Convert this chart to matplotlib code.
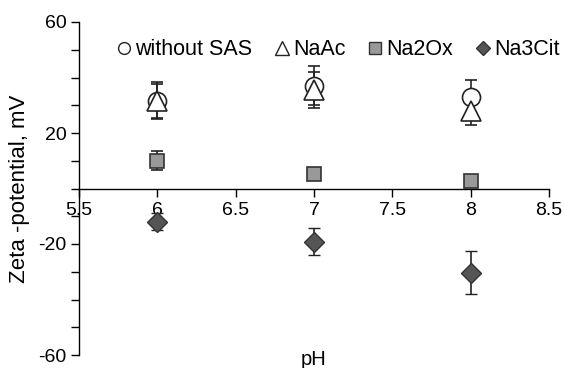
import matplotlib
matplotlib.use("Agg")
import matplotlib.pyplot as plt
from matplotlib.lines import Line2D

plt.rcParams['font.family'] = ['Liberation Sans', 'DejaVu Sans']
plt.rcParams['axes.unicode_minus'] = False

ph = [6, 7, 8]
labels = ["without SAS", "NaAc", "Na2Ox", "Na3Cit"]
without_sas = [31.7, 37.0, 33.0]
without_sas_err = [6.5, 7.0, 6.2]
naac = [31.5, 35.5, 28.0]
naac_err = [6.0, 6.5, 5.0]
na2ox = [10.0, 5.3, 2.6]
na2ox_err = [3.5, 0.0, 0.0]
na3cit = [-11.9, -19.2, -30.4]
na3cit_err = [3.0, 4.8, 7.7]

fig = plt.figure(figsize=(5.64, 3.68), dpi=100)
ax = fig.add_axes([79/564, 1-355/368, (549-79)/564, (355-22)/368])

ekw = dict(ecolor='#222222', elinewidth=1.2, capsize=4, capthick=1.2, linestyle='none')
styles = [
    dict(marker='o', ms=13, mfc='white', mec='#222222', mew=1.2),
    dict(marker='^', ms=14, mfc='white', mec='#222222', mew=1.2),
    dict(marker='s', ms=10, mfc='#999999', mec='#333333', mew=1.2),
    dict(marker='D', ms=10, mfc='#555555', mec='#333333', mew=1.0),
]
series = [(without_sas, without_sas_err), (naac, naac_err), (na2ox, na2ox_err), (na3cit, na3cit_err)]
for (vals, errs), st in zip(series, styles):
    ax.errorbar(ph, vals, yerr=errs, **st, **ekw)

ax.set_xlim(5.5, 8.5)
ax.set_ylim(-60, 60)
ax.set_xticks([5.5, 6, 6.5, 7, 7.5, 8, 8.5])
ax.set_xticklabels(['5.5', '6', '6.5', '7', '7.5', '8', '8.5'])
ax.set_yticks([-60, -20, 20, 60])
ax.set_yticks(range(-60, 61, 10), minor=True)
ax.tick_params(axis='y', which='both', direction='out', length=6, width=1, labelsize=14, pad=3)
ax.tick_params(axis='x', direction='out', length=6, width=1, labelsize=14, pad=4)

ax.spines['top'].set_visible(False)
ax.spines['right'].set_visible(False)
ax.spines['bottom'].set_position(('data', 0))
ax.spines['left'].set_linewidth(1)
ax.spines['bottom'].set_linewidth(1)

ax.set_ylabel('Zeta -potential, mV', fontsize=16, labelpad=6)
ax.set_xlabel('pH', fontsize=14.5)
ax.xaxis.label.set_va('baseline')
ax.xaxis.set_label_coords(0.5, -0.030)

handles = []
legsizes = [8.5, 9.5, 8.5, 7.5]
for st, s in zip(styles, legsizes):
    d = dict(st)
    d['ms'] = s
    d['mew'] = 1.0
    handles.append(Line2D([], [], linestyle='none', **d))
leg = ax.legend(handles, labels, ncol=4, loc='center', bbox_to_anchor=(0.552, 0.917),
                frameon=False, fontsize=15.5, handlelength=0.6, handletextpad=0.2,
                columnspacing=1.1, borderaxespad=0.0, borderpad=0.0)

fig.savefig('out.png', dpi=100)
